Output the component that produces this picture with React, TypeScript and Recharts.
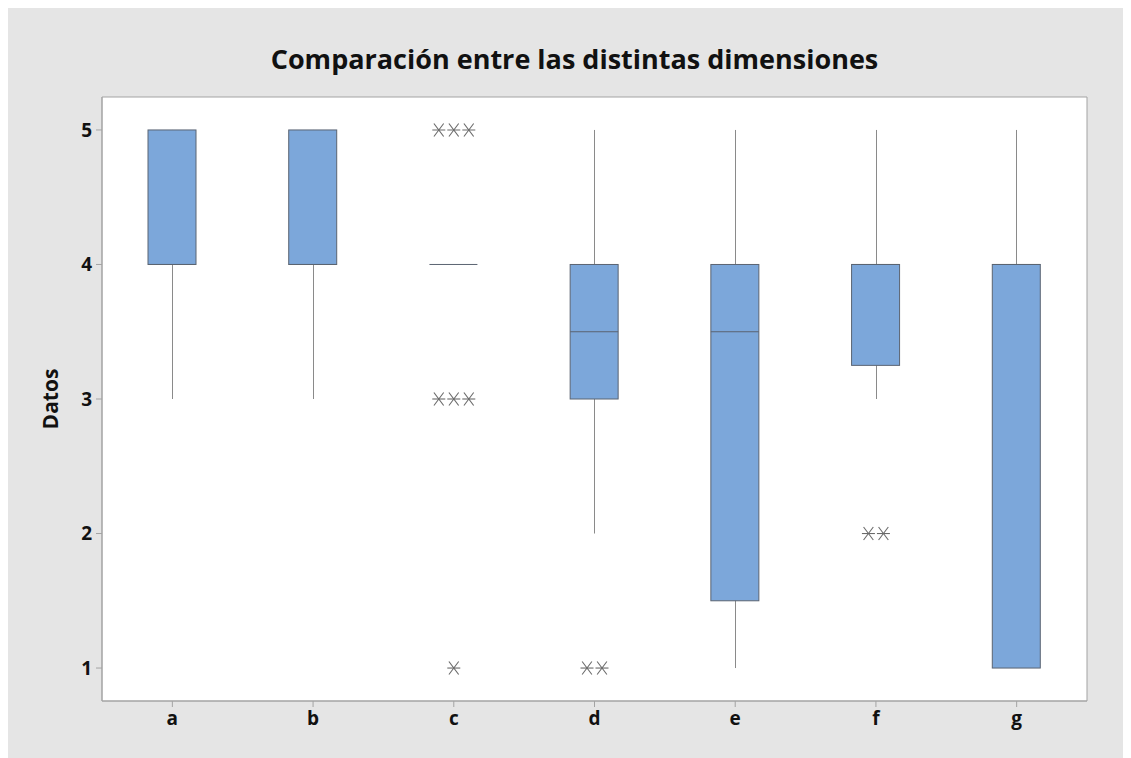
import {
  ComposedChart,
  Bar,
  Scatter,
  XAxis,
  YAxis,
  CartesianGrid,
  ReferenceArea
} from "recharts";

const CATEGORIES = ["a", "b", "c", "d", "e", "f", "g"];
const WHISKER_LOW = [3, 3, 4, 2, 1, 3, 1];
const Q1 = [4, 4, 4, 3, 1.5, 3.25, 1];
const MEDIAN = [4, 4, 4, 3.5, 3.5, 4, 4];
const Q3 = [5, 5, 4, 4, 4, 4, 4];
const WHISKER_HIGH = [5, 5, 4, 5, 5, 5, 5];

// outliers: category, value, how many tied observations
const OUTLIER_CAT = ["c", "c", "c", "d", "f"];
const OUTLIER_VALUE = [5, 3, 1, 1, 2];
const OUTLIER_COUNT = [3, 3, 1, 2, 2];

const Y_TICKS = [1, 2, 3, 4, 5];
const Y_MIN = 0.755;
const Y_MAX = 5.245;

const boxes = CATEGORIES.map((cat, i) => ({
  cat,
  whiskerLow: WHISKER_LOW[i],
  q1: Q1[i],
  median: MEDIAN[i],
  q3: Q3[i],
  whiskerHigh: WHISKER_HIGH[i]
}));

const outliers = OUTLIER_CAT.map((cat, i) => ({
  cat,
  value: OUTLIER_VALUE[i],
  count: OUTLIER_COUNT[i]
}));

const FONT = "'Open Sans', 'Noto Sans', sans-serif";

function BoxShape(props: any) {
  const { x, y, width, height, payload } = props;
  if (x == null || y == null) return null;
  const top = Math.min(y, y + height);
  const bottom = Math.max(y, y + height);
  const lo = payload.whiskerLow;
  const hi = payload.whiskerHigh;
  const toY = (v: number) =>
    hi === lo ? top : bottom - ((v - lo) / (hi - lo)) * (bottom - top);
  const cx = Math.round(x + width / 2) + 0.5;
  const yq3 = toY(payload.q3);
  const yq1 = toY(payload.q1);
  const ymed = toY(payload.median);
  return (
    <g>
      <line x1={cx} x2={cx} y1={toY(hi)} y2={toY(lo)} stroke="#8a8a8a" strokeWidth={1} />
      {yq1 - yq3 > 0 && (
        <rect
          x={x}
          y={yq3}
          width={width}
          height={yq1 - yq3}
          fill="#7ca7da"
          stroke="#5b6472"
          strokeWidth={1}
        />
      )}
      <line x1={x} x2={x + width} y1={ymed} y2={ymed} stroke="#5b6472" strokeWidth={1} />
    </g>
  );
}

function StarShape(props: any) {
  const { cx, cy, payload } = props;
  if (cx == null || cy == null) return null;
  const n = payload.count;
  const gap = 15;
  const r = 6.5;
  const stars = [];
  for (let k = 0; k < n; k++) {
    const sx = cx + (k - (n - 1) / 2) * gap;
    stars.push(
      <g key={k} stroke="#6a6a6a" strokeWidth={1.1}>
        <line x1={sx - r} x2={sx + r} y1={cy} y2={cy} />
        <line x1={sx - r * 0.75} x2={sx + r * 0.75} y1={cy - r} y2={cy + r} />
        <line x1={sx - r * 0.75} x2={sx + r * 0.75} y1={cy + r} y2={cy - r} />
      </g>
    );
  }
  return <g>{stars}</g>;
}

export default function App() {
  return (
    <div
      style={{
        position: "relative",
        width: 1123,
        height: 750,
        background: "#e5e5e5",
        fontFamily: FONT
      }}
    >
      <style>{"body{overflow:hidden}"}</style>
      <div
        style={{
          position: "absolute",
          left: 0,
          top: 35,
          width: 1133,
          textAlign: "center",
          fontSize: 27,
          fontWeight: 700,
          color: "#111",
          lineHeight: 1.2
        }}
      >
        Comparación entre las distintas dimensiones
      </div>
      <ComposedChart
        width={1123}
        height={750}
        data={boxes}
        margin={{ top: 89, right: 44, bottom: 17, left: 0 }}
      >
        <CartesianGrid fill="#ffffff" horizontal={false} vertical={false} />
        <ReferenceArea
          y1={Y_MIN}
          y2={Y_MAX}
          fill="none"
          fillOpacity={0}
          stroke="#a3a3a3"
          strokeWidth={1}
          ifOverflow="visible"
        />
        <XAxis
          dataKey="cat"
          type="category"
          allowDuplicatedCategory={false}
          height={40}
          tickSize={6}
          tickMargin={5}
          axisLine={{ stroke: "#a3a3a3" }}
          tickLine={{ stroke: "#a3a3a3" }}
          tick={{ fill: "#111", fontSize: 19, fontWeight: 700, fontFamily: FONT }}
        />
        <YAxis
          type="number"
          domain={[Y_MIN, Y_MAX]}
          ticks={Y_TICKS}
          allowDataOverflow
          width={94}
          tickSize={6}
          tickMargin={4}
          axisLine={{ stroke: "#a3a3a3" }}
          tickLine={{ stroke: "#a3a3a3" }}
          tick={{ fill: "#111", fontSize: 19, fontWeight: 700, fontFamily: FONT }}
          label={{
            value: "Datos",
            angle: -90,
            position: "insideLeft",
            dx: 38,
            style: {
              textAnchor: "middle",
              fill: "#111",
              fontSize: 21,
              fontWeight: 700,
              fontFamily: FONT
            }
          }}
        />
        <Bar
          dataKey={(d: any) => [d.whiskerLow, d.whiskerHigh]}
          barSize={48}
          shape={BoxShape}
          isAnimationActive={false}
        />
        <Scatter
          data={outliers}
          dataKey="value"
          shape={StarShape}
          isAnimationActive={false}
        />
      </ComposedChart>
    </div>
  );
}
